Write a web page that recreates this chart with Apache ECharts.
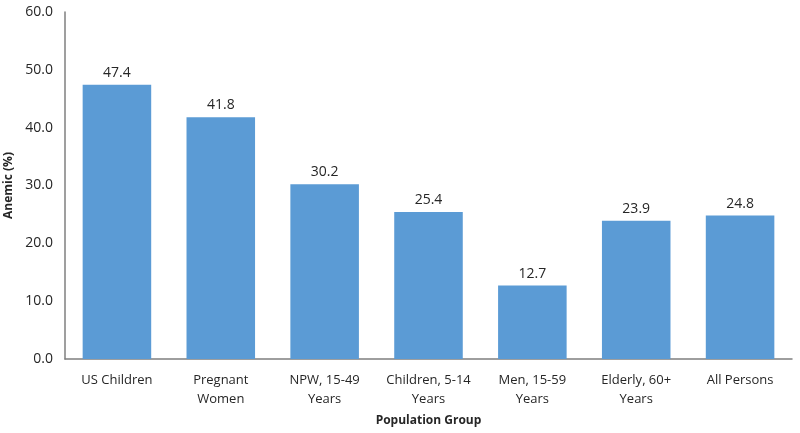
<!DOCTYPE html>
<html>
<head>
<meta charset="utf-8">
<script src="https://cdn.jsdelivr.net/npm/echarts@6/dist/echarts.min.js"></script>
<style>
  html, body { margin: 0; padding: 0; background: #fff; }
  #chart { width: 800px; height: 433px; }
</style>
</head>
<body>
<div id="chart"></div>
<script>
// population groups on the x axis
const categories = [
  'US Children',
  'Pregnant\nWomen',
  'NPW, 15-49\nYears',
  'Children, 5-14\nYears',
  'Men, 15-59\nYears',
  'Elderly, 60+\nYears',
  'All Persons'
];
// percent anemic
const anemic = [47.4, 41.8, 30.2, 25.4, 12.7, 23.9, 24.8];

const chart = echarts.init(document.getElementById('chart'));
const font = '"Open Sans", "Noto Sans", sans-serif';

chart.setOption({
  animation: false,
  textStyle: { fontFamily: font },
  grid: { left: 65, right: 8, top: 12, bottom: 74, containLabel: false, outerBoundsMode: 'none' },
  xAxis: {
    type: 'category',
    data: categories,
    name: 'Population Group',
    nameLocation: 'middle',
    nameGap: 56,
    nameTextStyle: { fontFamily: font, fontWeight: 'bold', fontSize: 12, color: '#262626' },
    axisLine: { lineStyle: { color: '#7f7f7f', width: 1.5 } },
    axisTick: { show: false },
    axisLabel: { color: '#262626', fontSize: 13, lineHeight: 19, margin: 12, interval: 0 }
  },
  yAxis: {
    type: 'value',
    min: 0,
    max: 60,
    interval: 10,
    name: 'Anemic (%)',
    nameLocation: 'middle',
    nameGap: 46,
    nameRotate: 90,
    nameTextStyle: { fontFamily: font, fontWeight: 'bold', fontSize: 12, color: '#262626' },
    axisLine: { show: true, lineStyle: { color: '#7f7f7f', width: 1.5 } },
    axisTick: { show: false },
    splitLine: { show: false },
    axisLabel: {
      color: '#262626',
      fontSize: 14,
      margin: 12,
      formatter: v => v.toFixed(1)
    }
  },
  series: [{
    type: 'bar',
    data: anemic,
    barWidth: '66%',
    itemStyle: { color: '#5b9bd5' },
    label: {
      show: true,
      position: 'top',
      distance: 5,
      color: '#262626',
      fontSize: 14,
      formatter: p => p.value.toFixed(1)
    }
  }]
});
</script>
</body>
</html>
